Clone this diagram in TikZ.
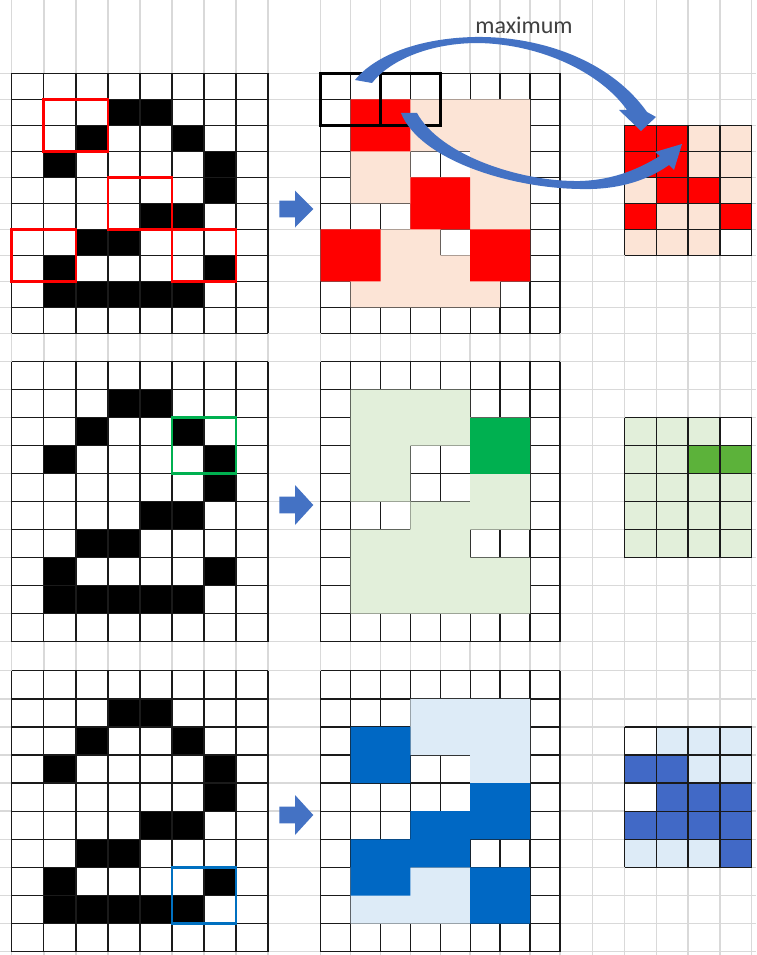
\documentclass[tikz,border=0pt]{standalone}
\usepackage{fontspec}
\setmainfont{Carlito}
\definecolor{bgline}{HTML}{D9D9D9}
\definecolor{gridblack}{HTML}{1A1A1A}
\definecolor{peach}{HTML}{FCE4D6}
\definecolor{lgreen}{HTML}{E2EFDA}
\definecolor{dgreen}{HTML}{00B050}
\definecolor{mgreen}{HTML}{5CB23A}
\definecolor{lblue}{HTML}{DDEBF7}
\definecolor{dblue}{HTML}{0068C4}
\definecolor{mblue}{HTML}{4169C6}
\definecolor{arrowblue}{HTML}{4472C4}
\definecolor{boxred}{HTML}{FF0000}
\definecolor{boxgreen}{HTML}{00B050}
\definecolor{boxblue}{HTML}{0070C0}
\definecolor{textgray}{HTML}{404040}
\colorlet{cW}{white}
\colorlet{cR}{boxred}
\colorlet{cP}{peach}
\colorlet{cG}{lgreen}
\colorlet{cM}{mgreen}
\colorlet{cL}{lblue}
\colorlet{cB}{mblue}
\newcommand{\digitgrid}[3]{%
 \begin{scope}[shift={(11.7,#1)},x=32.05pt,y=-#2pt]
  \fill[white] (0,0) rectangle (8,10);
  \foreach \cx/\ry in {3/1,4/1,2/2,5/2,1/3,6/3,6/4,4/5,5/5,2/6,3/6,1/7,6/7,1/8,2/8,3/8,4/8,5/8}
    {\fill[black] (\cx,\ry) rectangle ++(1,1);}
  \foreach \i in {0,...,8} {\draw[cellline] (\i,0) -- (\i,10);}
  \foreach \j in {0,...,10} {\draw[cellline] (0,\j) -- (8,\j);}
  #3
 \end{scope}}
\newcommand{\midgrid}[3]{%
 \begin{scope}[shift={(320.7,#1)},x=29.9pt,y=-#2pt]
  \fill[white] (0,0) rectangle (8,10);
  \foreach \i in {0,...,8} {\draw[cellline] (\i,0) -- (\i,10);}
  \foreach \j in {0,...,10} {\draw[cellline] (0,\j) -- (8,\j);}
  #3
 \end{scope}}
\newcommand{\poolgrid}[3]{%
 \begin{scope}[shift={(624.5,#1)},x=31.8pt,y=-#2pt]
  \foreach \rowlist [count=\ry from 0] in {#3}
    {\foreach \cl [count=\cx from 0] in \rowlist
      {\fill[fill=c\cl] (\cx,\ry) rectangle ++(1,1);}}
  \foreach \i in {0,...,4} {\draw[cellline] (\i,0) -- (\i,5);}
  \foreach \j in {0,...,5} {\draw[cellline] (0,\j) -- (4,\j);}
 \end{scope}}
\newcommand{\blockarrow}[2]{%
  \fill[arrowblue] (279.3,{#1-8.3}) -- (295,{#1-8.3}) -- (295,{#1-#2}) -- (313.3,#1)
    -- (295,{#1+#2}) -- (295,{#1+8.3}) -- (279.3,{#1+8.3}) -- cycle;}
\begin{document}
\begin{tikzpicture}[x=1pt,y=-1pt,
  bgl/.style={draw=bgline,line width=1.5pt},
  cellline/.style={draw=gridblack,line width=1.4pt},
  selbox/.style={line width=2.6pt},
  winbox/.style={draw=black,line width=3pt}]
\useasboundingbox (0,0) rectangle (756,955);
\fill[white] (0,0) rectangle (756,955);
% background spreadsheet grid
\foreach \k in {0,...,8} {\draw[bgl] ({11.7+32.05*\k},0) -- ({11.7+32.05*\k},955);}
\foreach \k in {0,...,8} {\draw[bgl] ({320.7+29.9*\k},0) -- ({320.7+29.9*\k},955);}
\foreach \k in {0,...,5} {\draw[bgl] ({592.7+31.8*\k},0) -- ({592.7+31.8*\k},955);}
\foreach \k in {0,...,10} {\draw[bgl] (0,{73.3+26*\k}) -- (756,{73.3+26*\k});}
\foreach \k in {0,...,10} {\draw[bgl] (0,{361.7+28*\k}) -- (756,{361.7+28*\k});}
\foreach \k in {0,...,10} {\draw[bgl] (0,{670.7+28.1*\k}) -- (756,{670.7+28.1*\k});}

% ---------- row 1 ----------
\digitgrid{73.3}{26}{%
  \draw[selbox,draw=boxred] (1,1) rectangle (3,3);
  \draw[selbox,draw=boxred] (3,4) rectangle (5,6);
  \draw[selbox,draw=boxred] (0,6) rectangle (2,8);
  \draw[selbox,draw=boxred] (5,6) rectangle (7,8);}
\midgrid{73.3}{26}{%
  \fill[peach] (1,1) rectangle (7,3) (1,3) rectangle (3,5) (5,3) rectangle (7,6)
    (3,4) rectangle (5,6) (0,6) rectangle (4,8) (4,7) rectangle (7,8)
    (5,6) rectangle (7,7) (1,8) rectangle (6,9);
  \fill[boxred] (1,1) rectangle (3,3) (3,4) rectangle (5,6)
    (0,6) rectangle (2,8) (5,6) rectangle (7,8);
  \draw[winbox] (0,0) rectangle (2,2);
  \draw[winbox] (2,0) rectangle (4,2);}
\poolgrid{125.3}{26}{{R,R,P,P},{R,R,P,P},{P,R,R,P},{R,P,P,R},{P,P,P,W}}
\blockarrow{209}{18.5}

% ---------- row 2 ----------
\digitgrid{361.7}{28}{%
  \draw[selbox,draw=boxgreen] (5,2) rectangle (7,4);}
\midgrid{361.7}{28}{%
  \fill[lgreen] (1,1) rectangle (5,3) (1,3) rectangle (3,5) (5,2) rectangle (7,6)
    (3,5) rectangle (7,6) (1,6) rectangle (5,7) (1,7) rectangle (7,9);
  \fill[dgreen] (5,2) rectangle (7,4);}
\poolgrid{417.7}{28}{{G,G,G,W},{G,G,M,M},{G,G,G,G},{G,G,G,G},{G,G,G,G}}
\blockarrow{505}{20}

% ---------- row 3 ----------
\digitgrid{670.7}{28.1}{%
  \draw[selbox,draw=boxblue] (5,7) rectangle (7,9);}
\midgrid{670.7}{28.1}{%
  \fill[lblue] (3,1) rectangle (7,3) (5,3) rectangle (7,4) (1,7) rectangle (5,9);
  \fill[dblue] (1,2) rectangle (3,4) (5,4) rectangle (7,6) (3,5) rectangle (5,7)
    (1,6) rectangle (3,8) (5,7) rectangle (7,9);}
\poolgrid{726.9}{28.1}{{W,L,L,L},{B,B,L,L},{W,B,B,B},{B,B,B,B},{L,L,L,B}}
\blockarrow{815}{20}

% ---------- curved arrows ----------
\fill[arrowblue] (355,80) .. controls (375,55) and (420,38) .. (475,37)
  .. controls (540,36) and (610,60) .. (647,112) -- (656,117) -- (641,131)
  -- (619,110) -- (627,110) .. controls (600,72) and (540,44) .. (478,43)
  .. controls (430,43) and (390,60) .. (372,83) -- cycle;
\fill[arrowblue] (401,113) -- (417,113) .. controls (440,155) and (520,182) .. (580,181)
  .. controls (615,180) and (640,168) .. (660,156) -- (655,152) -- (682,144)
  -- (674,170) -- (669,165) .. controls (645,182) and (615,190) .. (580,189)
  .. controls (510,188) and (420,160) .. (401,113) -- cycle;

\node[font=\fontsize{24}{28}\selectfont,text=textgray] (maxlabel) at (524,25) {maximum};
\end{tikzpicture}
\end{document}
